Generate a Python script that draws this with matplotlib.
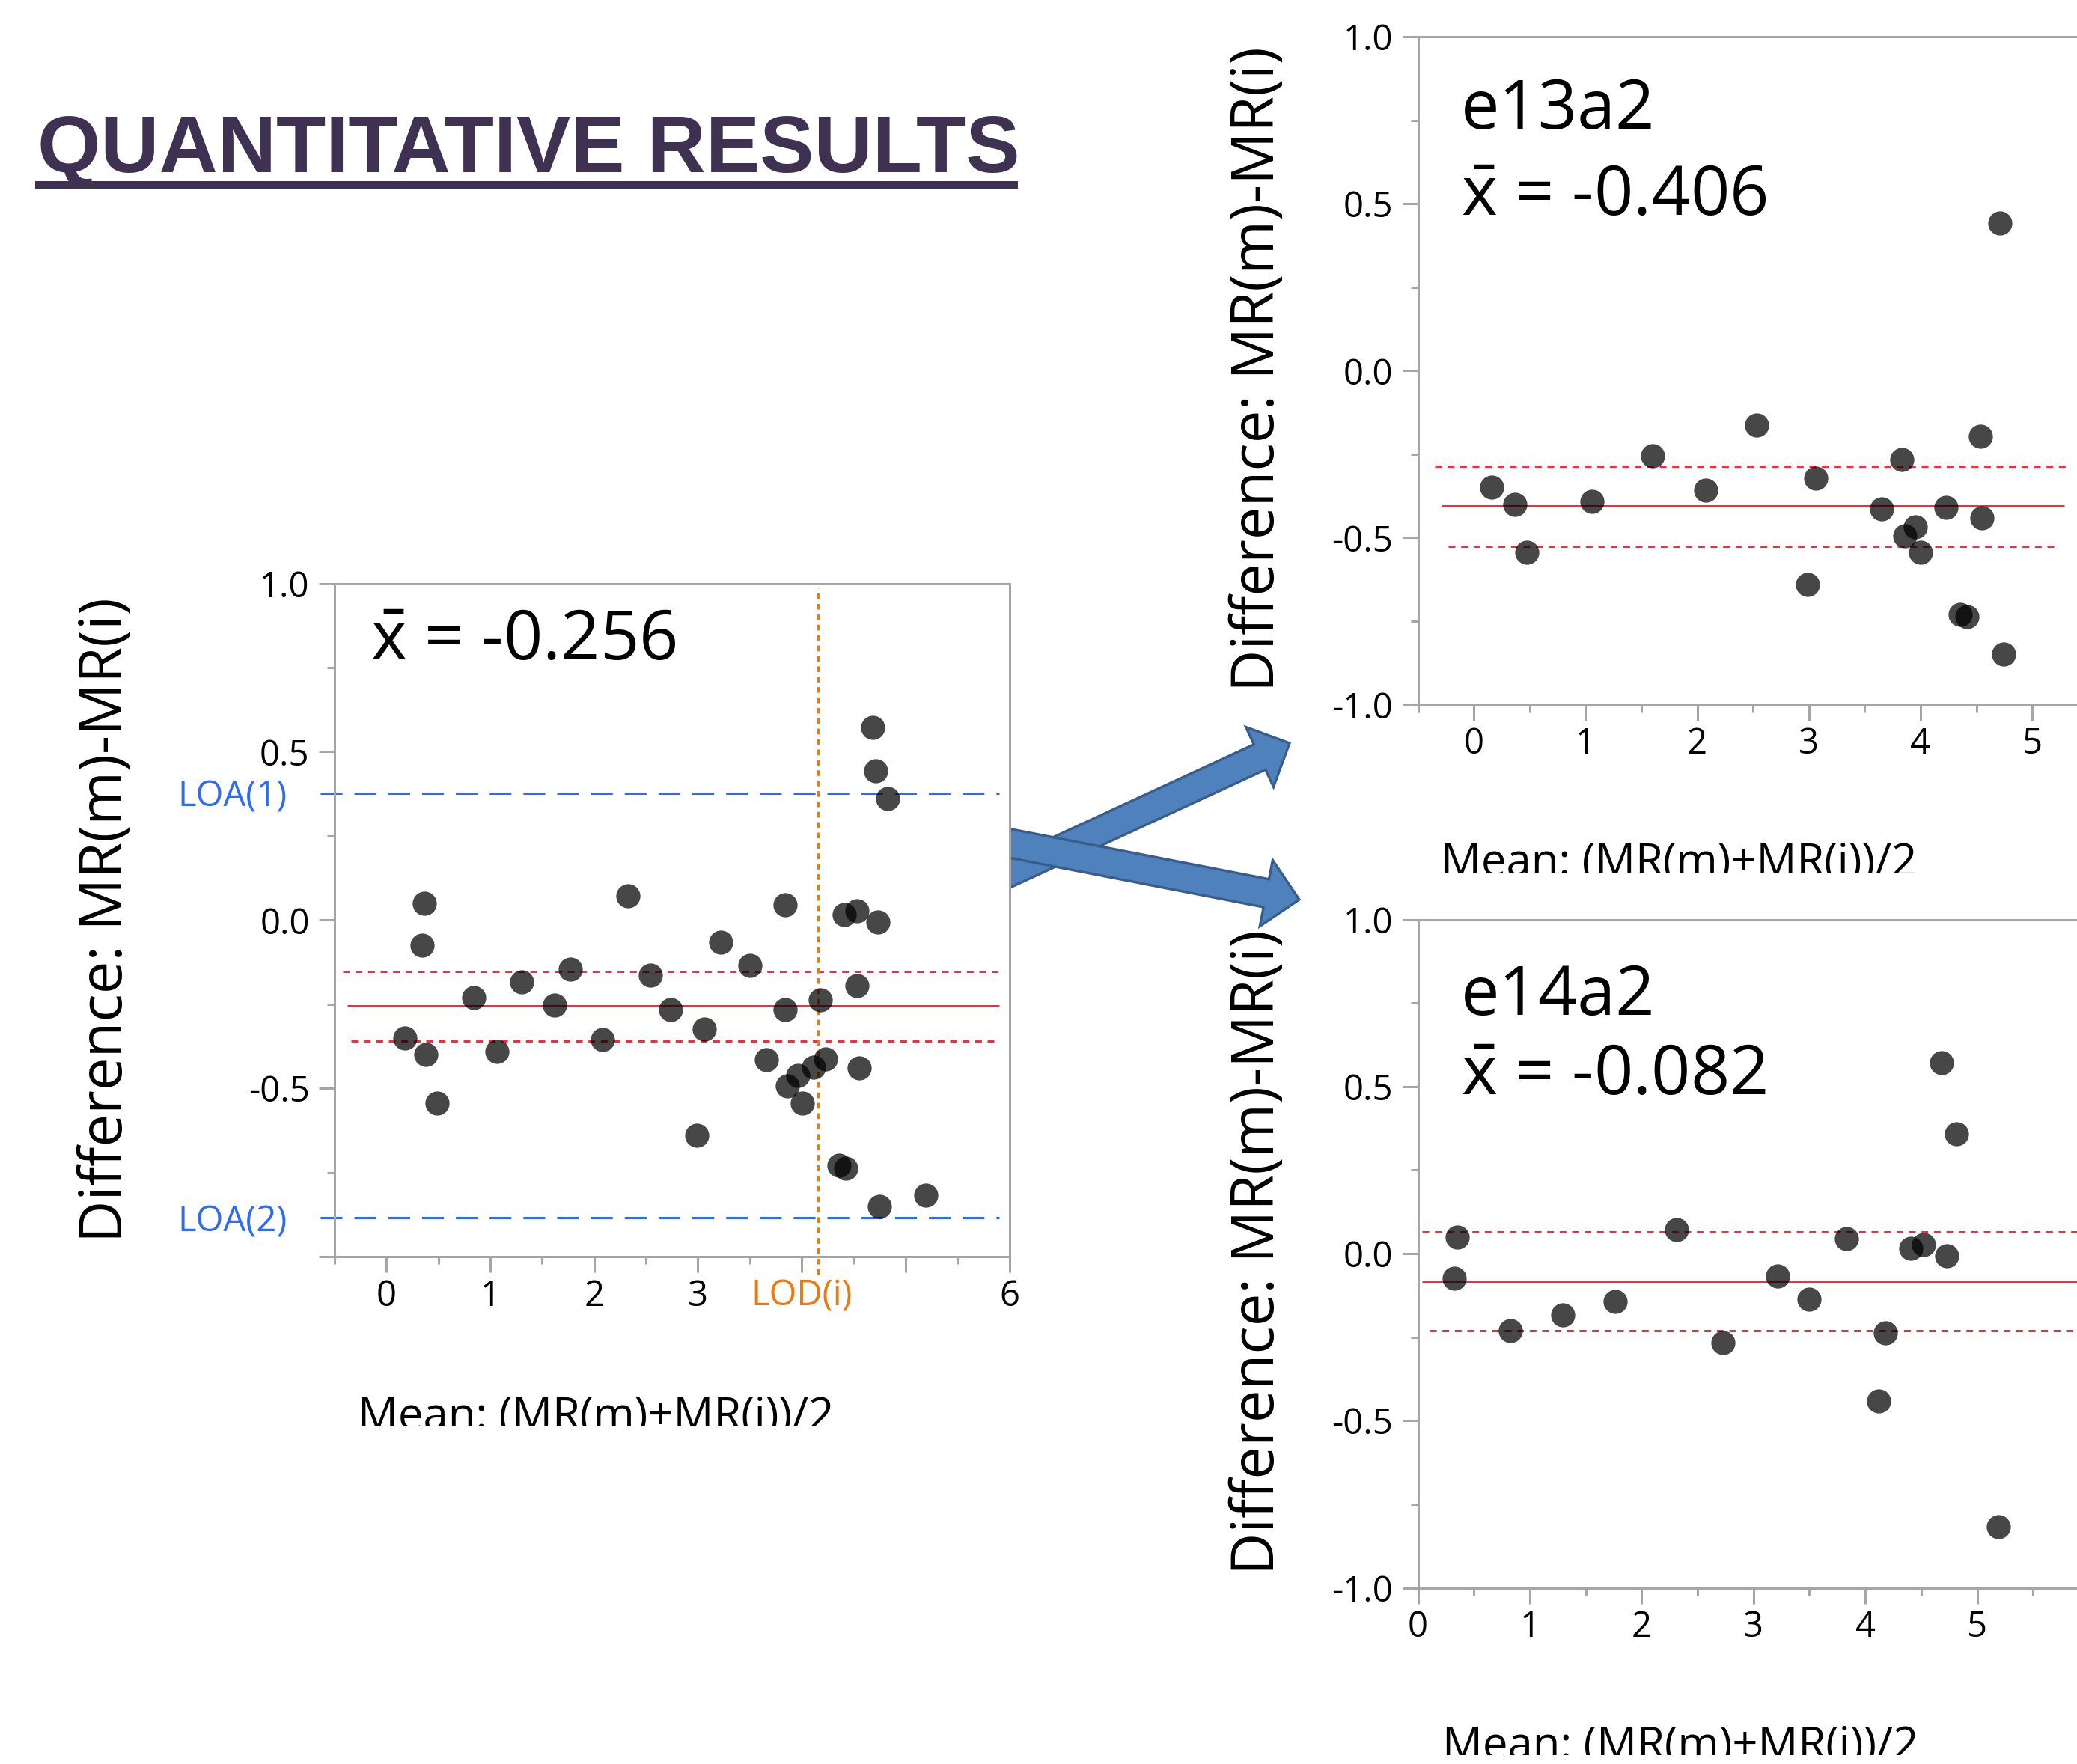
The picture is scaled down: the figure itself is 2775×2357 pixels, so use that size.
import matplotlib
matplotlib.use("Agg")
import matplotlib.pyplot as plt
from matplotlib.ticker import MultipleLocator, FuncFormatter
from matplotlib.transforms import Bbox, TransformedBbox
from matplotlib.patches import FancyArrow
from matplotlib.lines import Line2D

plt.rcParams['lines.scale_dashes'] = False
plt.rcParams['font.family'] = ['Open Sans', 'DejaVu Sans']
plt.rcParams['mathtext.fontset'] = 'custom'
plt.rcParams['mathtext.rm'] = 'Open Sans'
plt.rcParams['mathtext.it'] = 'Open Sans:italic'

W, H = 2775, 2357

# all samples (left panel)
all_x = [0.175, 0.345, 0.368, 0.377, 0.487, 0.841, 1.066, 1.305, 1.618, 1.774,
         2.082, 2.325, 2.541, 2.734, 2.992, 3.065, 3.221, 3.502, 3.658, 3.837,
         3.837, 3.860, 3.961, 4.003, 4.118, 4.182, 4.228, 4.357, 4.426, 4.412,
         4.536, 4.536, 4.554, 4.683, 4.715, 4.738, 4.825, 4.747, 5.198]
all_y = [-0.351, -0.074, 0.050, -0.399, -0.544, -0.231, -0.390, -0.183, -0.254, -0.146,
         -0.356, 0.071, -0.164, -0.266, -0.640, -0.323, -0.067, -0.136, -0.415, 0.044,
         -0.266, -0.494, -0.463, -0.544, -0.438, -0.237, -0.412, -0.728, -0.737, 0.016,
         0.027, -0.195, -0.440, 0.572, 0.443, -0.006, 0.360, -0.850, -0.817]
all_mean = -0.256
all_ci = [-0.153, -0.360]
all_loa = [0.377, -0.884]
lod_i = 4.16

# e13a2
e13_x = [0.159, 0.369, 0.476, 1.056, 1.603, 2.075, 2.536, 2.988, 3.060, 3.655, 3.833,
         3.857, 3.956, 4.000, 4.226, 4.353, 4.417, 4.536, 4.552, 4.710, 4.742]
e13_y = [-0.350, -0.400, -0.544, -0.391, -0.254, -0.357, -0.164, -0.641, -0.323, -0.414, -0.267,
         -0.494, -0.467, -0.544, -0.410, -0.729, -0.736, -0.197, -0.440, 0.441, -0.849]
e13_mean = -0.406
e13_ci = [-0.286, -0.527]

# e14a2
e14_x = [0.353, 0.325, 0.829, 1.294, 1.762, 2.313, 2.726, 3.214, 3.496, 3.833,
         4.179, 4.119, 4.409, 4.524, 4.730, 4.679, 4.817, 5.190]
e14_y = [0.049, -0.074, -0.230, -0.184, -0.144, 0.071, -0.266, -0.067, -0.137, 0.044,
         -0.237, -0.441, 0.016, 0.026, -0.006, 0.570, 0.359, -0.817]
e14_mean = -0.082
e14_ci = [0.064, -0.230]

GRAY = '#a6a6a6'
RED = '#e63241'
BLUE = '#2f6cf5'
ORANGE = '#e97b12'
DOT = (0, (6.5, 5.5))
XBAR = r'$\mathrm{\bar{x}}$'

fig = plt.figure(figsize=(W / 100, H / 100), dpi=100)


def px_axes(left, top, right, bottom, **kw):
    return fig.add_axes([left / W, 1 - bottom / H, (right - left) / W, (bottom - top) / H], **kw)


def style(ax, xlim):
    ax.set_xlim(*xlim)
    ax.set_ylim(-1, 1)
    ax.xaxis.set_major_locator(MultipleLocator(1))
    ax.xaxis.set_minor_locator(MultipleLocator(0.5))
    ax.yaxis.set_major_locator(MultipleLocator(0.5))
    ax.yaxis.set_minor_locator(MultipleLocator(0.25))
    # the right panels run off the slide, no label for 6
    ax.xaxis.set_major_formatter(FuncFormatter(lambda v, p: '' if v > 5.5 else '%d' % round(v)))
    ax.yaxis.set_major_formatter(FuncFormatter(lambda v, p: '%.1f' % (0.0 if abs(v) < 1e-9 else v)))
    for sp in ax.spines.values():
        sp.set_color(GRAY)
        sp.set_linewidth(2.2)
    ax.tick_params(which='both', color=GRAY, width=2.2, direction='out')
    ax.tick_params(which='major', length=15, labelsize=34)
    ax.tick_params(which='minor', length=7.5)
    ax.tick_params(axis='x', pad=6)
    ax.tick_params(axis='y', pad=9)


def hline(ax, y, x0, x1, **kw):
    ax.plot([x0, x1], [y, y], lw=2.2, color=RED, solid_capstyle='butt', clip_on=False, **kw)


def clipped_label(x, cap_top, clip_y, size=43):
    cap = 0.714 * size * 100 / 72
    t = fig.text(x / W, 1 - (cap_top + cap) / H, 'Mean: (MR(m)+MR(i))/2',
                 fontsize=size, ha='left', va='baseline')
    t.set_clip_box(TransformedBbox(Bbox([[0, 1 - clip_y / H], [1, 1]]), fig.transFigure))
    t.set_clip_on(True)


def ylabel(xc, yc):
    fig.text(xc / W, 1 - yc / H, 'Difference: MR(m)-MR(i)', fontsize=56,
             rotation=90, ha='center', va='center')


def big(x, y, s):
    fig.text(x / W, 1 - y / H, s, fontsize=66, ha='left', va='baseline')


# arrows behind the left panel
ov = fig.add_axes([0, 0, 1, 1], zorder=0.5)
ov.set_xlim(0, W)
ov.set_ylim(H, 0)
ov.axis('off')
ov.add_patch(FancyArrow(1300, 1188.6, 423, -195.6, width=37, head_width=88, head_length=44,
                        length_includes_head=True, fc='#4f81bd', ec='#385d8a', lw=2.4))
ov.add_patch(FancyArrow(1300, 1117.3, 436, 84.7, width=38, head_width=90, head_length=45,
                        length_includes_head=True, fc='#4f81bd', ec='#385d8a', lw=2.4))

# left panel
ax = px_axes(447, 779.5, 1348.5, 1679, zorder=1)
style(ax, (-0.5, 6))
ax.set_xticks(range(7), labels=['0', '1', '2', '3', 'LOD(i)', '', '6'])
ax.get_xticklabels()[4].set_color(ORANGE)
ax.yaxis.set_major_formatter(FuncFormatter(
    lambda v, p: '' if v < -0.99 else '%.1f' % (0.0 if abs(v) < 1e-9 else v)))
ax.scatter(all_x, all_y, s=540, c='black', alpha=0.72, linewidths=0, zorder=3)
hline(ax, all_mean, -0.38, 5.9)
hline(ax, all_ci[0], -0.42, 5.9, ls=DOT)
hline(ax, all_ci[1], -0.34, 5.86, ls=DOT)
for v in all_loa:
    ax.plot([-0.64, 5.9], [v, v], lw=2.2, color=BLUE, ls=(0, (21, 11.5)), clip_on=False)
ax.plot([lod_i, lod_i], [-1.053, 0.985], lw=2.2, color=ORANGE, ls=(0, (5.5, 4.5)), clip_on=False)
ax.text(-0.955, all_loa[0], 'LOA(1)', color=BLUE, fontsize=34, ha='right', va='center_baseline')
ax.text(-0.955, all_loa[1], 'LOA(2)', color=BLUE, fontsize=34, ha='right', va='center_baseline')
big(495, 881, XBAR + ' = -0.256')
ylabel(143, 1229)
clipped_label(478, 1867, 1906)

# e13a2
ax2 = px_axes(1894.5, 49, 1894.5 + 6.5 * 149.2, 941.5, zorder=1)
style(ax2, (-0.5, 6))
ax2.scatter(e13_x, e13_y, s=540, c='black', alpha=0.72, linewidths=0, zorder=3)
hline(ax2, e13_mean, -0.29, 5.29)
hline(ax2, e13_ci[0], -0.35, 5.33, ls=DOT)
hline(ax2, e13_ci[1], -0.23, 5.22, ls=DOT)
big(1952, 172, 'e13a2')
big(1952, 287, XBAR + ' = -0.406')
ylabel(1681, 493)
clipped_label(1925, 1127, 1166)

# e14a2
ax3 = px_axes(1894.5, 1228.5, 1894.5 + 6 * 149.4, 2121.5, zorder=1)
style(ax3, (0, 6))
ax3.scatter(e14_x, e14_y, s=540, c='black', alpha=0.72, linewidths=0, zorder=3)
hline(ax3, e14_mean, 0.04, 6)
hline(ax3, e14_ci[0], 0.04, 6, ls=DOT)
hline(ax3, e14_ci[1], 0.107, 6, ls=DOT)
big(1952, 1356, 'e14a2')
big(1952, 1462, XBAR + ' = -0.082')
ylabel(1681, 1673)
clipped_label(1927, 2307, 2345)

# title
fig.text(50 / W, 1 - 230 / H, 'QUANTITATIVE RESULTS', fontsize=78, fontweight='bold',
         family=['Liberation Sans', 'DejaVu Sans'], color='#3f3151', ha='left', va='baseline')
fig.add_artist(Line2D([47 / W, 1360 / W], [1 - 247 / H, 1 - 247 / H], lw=7.2,
                      color='#3f3151', solid_capstyle='butt', transform=fig.transFigure))

fig.savefig('out.png', dpi=100)
